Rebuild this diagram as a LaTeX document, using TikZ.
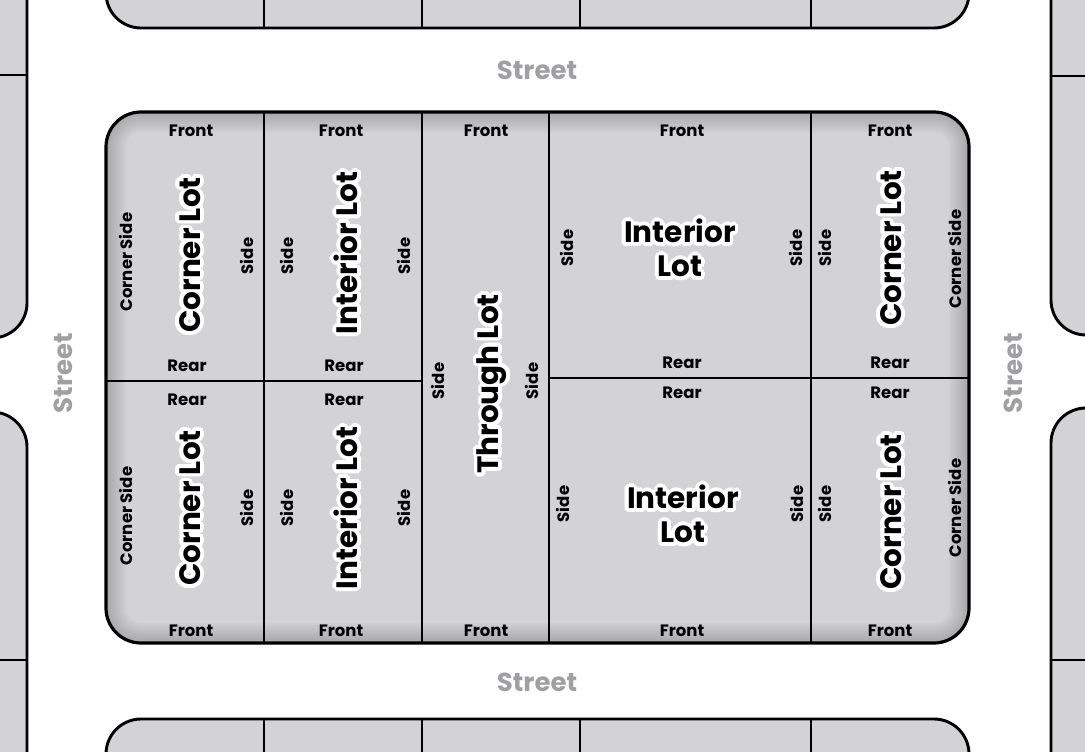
\documentclass[tikz,border=0pt]{standalone}
\usepackage{fontspec}
\setmainfont{Poppins}
\begin{document}
\begin{tikzpicture}[x=1pt,y=-1pt,
  blockfill/.style={fill=lotgray},
  edge/.style={line width=2.9pt,black},
  small/.style={font=\bfseries\fontsize{16.5}{17}\selectfont,inner sep=0pt},
  big/.style={font=\bfseries\fontsize{29.5}{34}\selectfont,inner sep=0pt,align=center},
  streetlbl/.style={font=\bfseries\fontsize{26}{27}\selectfont,text=streetgray,inner sep=0pt}]
\definecolor{lotgray}{RGB}{211,211,214}
\definecolor{streetgray}{RGB}{160,160,162}
\newcommand\lotlabel[4]{%
  \foreach \a in {0,22.5,...,337.5}{\node[big,white,rotate=#3] at ([shift={(\a:3.8)}]#2) {#4};}
  \node[big,rotate=#3] (#1) at (#2) {#4};}
\useasboundingbox (0,0) rectangle (1085,752);
\clip (0,0) rectangle (1085,752);
\fill[white] (0,0) rectangle (1085,752);
% surrounding blocks
\begin{scope}[rounded corners=35]
\draw[edge,blockfill] (106,-60) rectangle (969,28);
\draw[edge,blockfill] (106,719) rectangle (969,820);
\draw[edge,blockfill] (-60,-60) rectangle (27,338);
\draw[edge,blockfill] (-60,412) rectangle (27,820);
\draw[edge,blockfill] (1051,-60) rectangle (1150,335);
\draw[edge,blockfill] (1051,408) rectangle (1150,820);
\end{scope}
\foreach \xx in {264,422,580,811}{
  \draw[edge] (\xx,-5) -- (\xx,28);
  \draw[edge] (\xx,719) -- (\xx,760);}
\draw[edge] (-5,75) -- (27,75);
\draw[edge] (-5,660) -- (27,660);
\draw[edge] (1051,76) -- (1090,76);
\draw[edge] (1051,660) -- (1090,660);
% main block
\fill[lotgray,rounded corners=35] (106,112) rectangle (969,643);
\begin{scope}
\clip[rounded corners=35] (106,112) rectangle (969,643);
\foreach \w in {4,8,...,40}{
  \draw[black,opacity=0.02,line width=\w pt,rounded corners=35] (106,112) rectangle (969,643);}
\end{scope}
\draw[edge] (264,112) -- (264,643);
\draw[edge] (422,112) -- (422,643);
\draw[edge] (549,112) -- (549,643);
\draw[edge] (811,112) -- (811,643);
\draw[edge] (106,381) -- (422,381);
\draw[edge] (549,378) -- (969,378);
\draw[edge,line width=3.2pt,rounded corners=35] (106,112) rectangle (969,643);
% street labels
\node[streetlbl] (s1) at (537,70) {Street};
\node[streetlbl] (s2) at (537,682) {Street};
\node[streetlbl,rotate=90] (s3) at (63,373) {Street};
\node[streetlbl,rotate=90] (s4) at (1013,373) {Street};
% small labels
\foreach \n/\p/\t in {f1/{191,131}/Front, f2/{341,131}/Front, f3/{486,131}/Front, f4/{682,131}/Front, f5/{890,131}/Front,
  f6/{191,631}/Front, f7/{341,631}/Front, f8/{486,631}/Front, f9/{682,631}/Front, f10/{890,631}/Front,
  r1/{187,366}/Rear, r2/{344,366}/Rear, r3/{682,363}/Rear, r4/{890,363}/Rear,
  r5/{187,400}/Rear, r6/{344,400}/Rear, r7/{682,393}/Rear, r8/{890,393}/Rear}
  {\node[small] (\n) at (\p) {\t};}
\foreach \n/\p/\t in {c1/{126,262}/Corner Side, c2/{126,516}/Corner Side, c3/{955,259}/Corner Side, c4/{955,508}/Corner Side,
  d1/{247,256}/Side, d2/{287,256}/Side, d3/{404,256}/Side, d4/{567,248}/Side, d5/{796,248}/Side, d6/{825,248}/Side,
  d7/{247,508}/Side, d8/{287,508}/Side, d9/{404,508}/Side, d10/{563,504}/Side, d11/{797,504}/Side, d12/{825,504}/Side,
  d13/{438,381}/Side, d14/{532,381}/Side}
  {\node[small,rotate=90] (\n) at (\p) {\t};}
% lot labels
\lotlabel{L1}{190,255}{90}{Corner Lot}
\lotlabel{L2}{346,253}{90}{Interior Lot}
\lotlabel{L3}{492,384}{90}{Through Lot}
\lotlabel{L4}{680,248}{0}{Interior\\Lot}
\lotlabel{L5}{891,248}{90}{Corner Lot}
\lotlabel{L6}{190,508}{90}{Corner Lot}
\lotlabel{L7}{346,508}{90}{Interior Lot}
\lotlabel{L8}{683,514}{0}{Interior\\Lot}
\lotlabel{L9}{891,512}{90}{Corner Lot}
\end{tikzpicture}
\end{document}
